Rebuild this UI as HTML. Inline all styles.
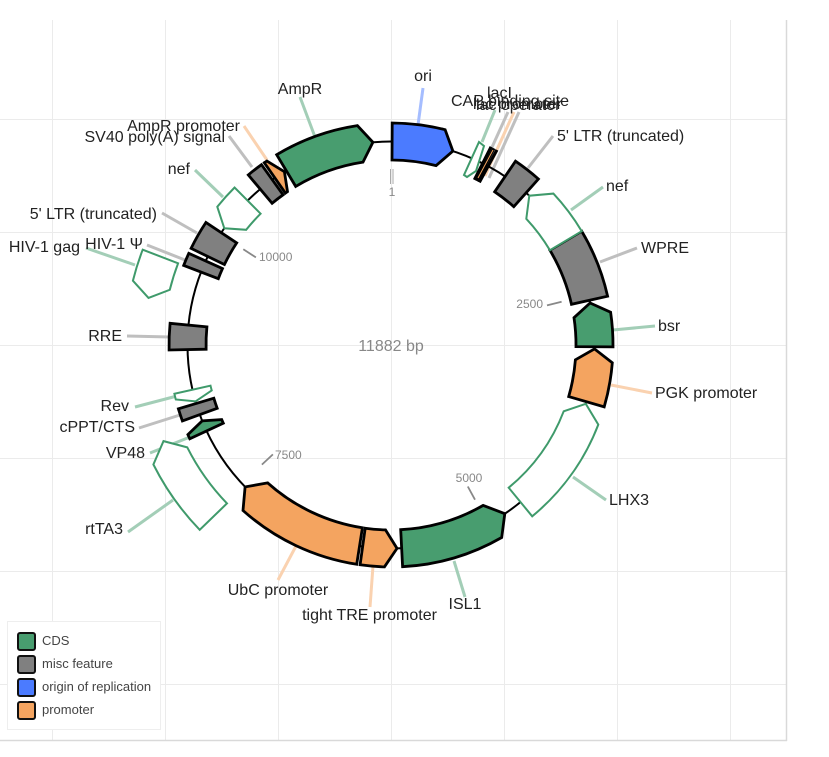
<!DOCTYPE html>
<html>
<head>
<meta charset="utf-8">
<style>
html,body{margin:0;padding:0;background:#fff;}
svg{display:block;}
text{font-family:"Liberation Sans",Arial,sans-serif;}
</style>
</head>
<body>
<svg width="829" height="757" viewBox="0 0 829 757" xmlns="http://www.w3.org/2000/svg">
<rect x="0" y="0" width="829" height="757" fill="#fff"/>
<!-- grid -->
<g stroke="#ebebeb" stroke-width="1">
<line x1="52.5" y1="20" x2="52.5" y2="740"/>
<line x1="165.5" y1="20" x2="165.5" y2="740"/>
<line x1="278.5" y1="20" x2="278.5" y2="740"/>
<line x1="391.5" y1="20" x2="391.5" y2="740"/>
<line x1="504.5" y1="20" x2="504.5" y2="740"/>
<line x1="617.5" y1="20" x2="617.5" y2="740"/>
<line x1="730.5" y1="20" x2="730.5" y2="740"/>
<line x1="0" y1="119.5" x2="786" y2="119.5"/>
<line x1="0" y1="232.5" x2="786" y2="232.5"/>
<line x1="0" y1="345.5" x2="786" y2="345.5"/>
<line x1="0" y1="458.5" x2="786" y2="458.5"/>
<line x1="0" y1="571.5" x2="786" y2="571.5"/>
<line x1="0" y1="684.5" x2="786" y2="684.5"/>
</g>
<g stroke="#d9d9d9" stroke-width="1.5">
<line x1="786.5" y1="20" x2="786.5" y2="741"/>
<line x1="0" y1="740.5" x2="787" y2="740.5"/>
</g>

<!-- leader lines -->
<g stroke-width="3" fill="none">
<line x1="423" y1="88" x2="418" y2="125" stroke="#a5bdff"/>
<line x1="300" y1="97" x2="315" y2="137" stroke="#a3ceb7"/>
<line x1="244" y1="126" x2="267" y2="160" stroke="#fad2b0"/>
<line x1="229" y1="136" x2="252" y2="167" stroke="#bfbfbf"/>
<line x1="195" y1="170" x2="223" y2="197" stroke="#a3ceb7"/>
<line x1="162" y1="213" x2="197" y2="233" stroke="#bfbfbf"/>
<line x1="147" y1="245" x2="185" y2="260" stroke="#bfbfbf"/>
<line x1="86" y1="248" x2="135" y2="265" stroke="#a3ceb7"/>
<line x1="127" y1="336" x2="170" y2="337" stroke="#bfbfbf"/>
<line x1="135" y1="407" x2="177" y2="396" stroke="#a3ceb7"/>
<line x1="139" y1="428" x2="180" y2="415" stroke="#bfbfbf"/>
<line x1="150" y1="453" x2="190" y2="437" stroke="#a3ceb7"/>
<line x1="128" y1="532" x2="173" y2="500" stroke="#a3ceb7"/>
<line x1="278" y1="580" x2="296" y2="546" stroke="#fad2b0"/>
<line x1="370" y1="607" x2="373" y2="566" stroke="#fad2b0"/>
<line x1="465" y1="597" x2="454" y2="561" stroke="#a3ceb7"/>
<line x1="606" y1="500" x2="573" y2="477" stroke="#a3ceb7"/>
<line x1="652" y1="393" x2="611" y2="385" stroke="#fad2b0"/>
<line x1="655" y1="326" x2="613" y2="330" stroke="#a3ceb7"/>
<line x1="637" y1="248" x2="600" y2="262" stroke="#bfbfbf"/>
<line x1="603" y1="187" x2="571" y2="210" stroke="#a3ceb7"/>
<line x1="553" y1="136" x2="528" y2="168" stroke="#bfbfbf"/>
<line x1="495" y1="110" x2="482" y2="142" stroke="#a3ceb7"/>
<line x1="508" y1="112" x2="478" y2="178" stroke="#bfbfbf"/>
<line x1="514" y1="112" x2="485" y2="176" stroke="#fad2b0"/>
<line x1="519" y1="112" x2="489" y2="178" stroke="#bfbfbf"/>
</g>

<!-- backbone -->
<circle cx="391" cy="345" r="203.5" fill="none" stroke="#000" stroke-width="2"/>

<!-- ticks -->
<g stroke="#888" stroke-width="1.8">
<line x1="547" y1="305.4" x2="561.6" y2="301.7"/>
<line x1="467.8" y1="486.5" x2="475" y2="499.7"/>
<line x1="272.9" y1="454.4" x2="261.9" y2="464.6"/>
<line x1="255.9" y1="257.4" x2="243.3" y2="249.3"/>
</g>
<g stroke="#aaa" stroke-width="1">
<line x1="390.5" y1="169" x2="390.5" y2="184"/>
<line x1="393" y1="169" x2="393" y2="184"/>
</g>
<g font-size="12" fill="#888">
<text x="392" y="196" text-anchor="middle">1</text>
<text x="543" y="308" text-anchor="end">2500</text>
<text x="469" y="482" text-anchor="middle">5000</text>
<text x="275" y="459">7500</text>
<text x="259" y="261">10000</text>
</g>

<!-- features -->
<g stroke="#000" stroke-width="2.8" stroke-linejoin="miter">
<path fill="#4b7bff" d="M392.2 123 A222 222 0 0 1 445.1 129.7 L452.9 151.1 L436.1 165.6 A185 185 0 0 0 392 160 Z"/>
<path fill="#489d6f" d="M276.7 154.7 A222 222 0 0 1 357.4 125.6 L372.9 142.3 L363 162.1 A185 185 0 0 0 295.7 186.4 Z"/>
<path fill="#f4a460" d="M264.3 162.7 A222 222 0 0 1 266.9 161 L284.4 171.7 L287.5 191.6 A185 185 0 0 0 285.4 193.1 Z"/>
<path fill="#808080" d="M248.3 174.9 A222 222 0 0 1 261.5 164.7 L283.1 194.8 A185 185 0 0 0 272.1 203.3 Z"/>
<path fill="#808080" d="M191.1 248.4 A222 222 0 0 1 205.9 222.5 L236.7 242.9 A185 185 0 0 0 224.4 264.5 Z"/>
<path fill="#808080" d="M183.7 265.4 A222 222 0 0 1 188.8 253.3 L222.5 268.6 A185 185 0 0 0 218.3 278.7 Z"/>
<path fill="#808080" d="M169.1 350 A222 222 0 0 1 170.1 323.3 L206.9 326.9 A185 185 0 0 0 206.1 349.2 Z"/>
<path fill="#808080" d="M182.4 420.9 A222 222 0 0 1 178.4 408.8 L213.8 398.2 A185 185 0 0 0 217.2 408.3 Z"/>
<path fill="#489d6f" d="M189.8 438.8 A222 222 0 0 1 187.9 434.6 L202.2 420.9 L221.7 419.6 A185 185 0 0 0 223.3 423.2 Z"/>
<path fill="#f4a460" d="M356.7 564.3 A222 222 0 0 1 243 510.5 L245.1 486.9 L267.7 482.9 A185 185 0 0 0 362.4 527.8 Z"/>
<path fill="#f4a460" d="M384.4 566.9 A222 222 0 0 1 360.1 564.8 L365.2 528.2 A185 185 0 0 0 385.5 529.9 L397 548.4 Z"/>
<path fill="#489d6f" d="M501.7 537.5 A222 222 0 0 1 402.6 566.7 L400.7 529.7 A185 185 0 0 0 483.2 505.4 L504.8 513.7 Z"/>
<path fill="#f4a460" d="M612.3 362.8 A222 222 0 0 1 604.2 406.9 L568.7 396.6 A185 185 0 0 0 575.4 359.8 L594.5 348.9 Z"/>
<path fill="#489d6f" d="M610.6 312.2 A222 222 0 0 1 613 346.9 L576 346.6 A185 185 0 0 0 574 317.7 L590.1 303 Z"/>
<path fill="#808080" d="M581.7 231.2 A222 222 0 0 1 607.6 296.2 L571.5 304.3 A185 185 0 0 0 549.9 250.2 Z"/>
<path fill="#808080" d="M515.5 161.2 A222 222 0 0 1 538.4 179 L513.8 206.7 A185 185 0 0 0 494.7 191.8 Z"/>
</g>

<!-- hollow CDS -->
<g stroke="#3f9a6b" stroke-width="2" fill="#fff" stroke-linejoin="miter">
<path d="M217.3 206.8 A222 222 0 0 1 234.6 187.5 L260.6 213.7 A185 185 0 0 0 246.2 229.8 L224.3 228.3 Z"/>
<path d="M132.9 280.7 A266 266 0 0 1 142.7 249.7 L178.1 263.3 A228 228 0 0 0 169.8 289.8 L148.5 297.9 Z"/>
<path d="M175.8 399.5 A222 222 0 0 1 174.4 393.8 L210.5 385.7 A185 185 0 0 0 211.7 390.4 L195.5 401.4 Z"/>
<path d="M199.7 529.8 A266 266 0 0 1 153.4 464.5 L163.5 441.1 L187.3 447.4 A228 228 0 0 0 227 503.4 Z"/>
<path d="M598.3 424.6 A222 222 0 0 1 532.2 516.3 L508.7 487.7 A185 185 0 0 0 563.7 411.3 L585.8 403.8 Z"/>
<path d="M553.4 193.6 A222 222 0 0 1 581.7 231.2 L549.9 250.2 A185 185 0 0 0 526.3 218.8 L529.3 195.7 Z"/>
<path d="M479 142 L484 146 L476 171 L467 177 L464 175 Z"/>
</g>

<!-- lac cluster -->
<g stroke-width="3.2" stroke-linecap="butt">
<line x1="474.4" y1="179.9" x2="491.1" y2="146.8" stroke="#000"/>
<line x1="476.9" y1="181.1" x2="493.9" y2="148.3" stroke="#000"/>
<line x1="479.3" y1="182.4" x2="496.9" y2="149.9" stroke="#000"/>
<line x1="478" y1="178" x2="493" y2="150" stroke="#f4a460" stroke-width="1"/>
</g>

<!-- center label -->
<text x="391" y="351" text-anchor="middle" font-size="16" fill="#888">11882 bp</text>

<!-- labels -->
<g font-size="16" fill="#222">
<text x="423" y="81" text-anchor="middle">ori</text>
<text x="300" y="94" text-anchor="middle">AmpR</text>
<text x="240" y="131" text-anchor="end">AmpR promoter</text>
<text x="225" y="142" text-anchor="end">SV40 poly(A) signal</text>
<text x="190" y="174" text-anchor="end">nef</text>
<text x="157" y="219" text-anchor="end">5' LTR (truncated)</text>
<text x="143" y="249" text-anchor="end">HIV-1 Ψ</text>
<text x="80" y="252" text-anchor="end">HIV-1 gag</text>
<text x="122" y="341" text-anchor="end">RRE</text>
<text x="129" y="411" text-anchor="end">Rev</text>
<text x="135" y="432" text-anchor="end">cPPT/CTS</text>
<text x="145" y="458" text-anchor="end">VP48</text>
<text x="123" y="534" text-anchor="end">rtTA3</text>
<text x="278" y="595" text-anchor="middle">UbC promoter</text>
<text x="369.5" y="620" text-anchor="middle">tight TRE promoter</text>
<text x="465" y="609" text-anchor="middle">ISL1</text>
<text x="609" y="505">LHX3</text>
<text x="655" y="398">PGK promoter</text>
<text x="658" y="331">bsr</text>
<text x="641" y="253">WPRE</text>
<text x="606" y="191">nef</text>
<text x="557" y="141">5' LTR (truncated)</text>
<text x="451" y="106">CAP binding site</text>
<text x="487" y="98">lacI</text>
<text x="473" y="109">lac promoter</text>
<text x="476" y="110">lac operator</text>
</g>

<!-- legend -->
<rect x="7.5" y="621.5" width="153" height="108" fill="#fff" stroke="#eeeeee" stroke-width="1"/>
<g stroke="#111" stroke-width="2">
<rect x="18" y="633" width="17" height="17" rx="2" fill="#489d6f"/>
<rect x="18" y="656" width="17" height="17" rx="2" fill="#808080"/>
<rect x="18" y="679" width="17" height="17" rx="2" fill="#4b7bff"/>
<rect x="18" y="702" width="17" height="17" rx="2" fill="#f4a460"/>
</g>
<g font-size="13" fill="#444">
<text x="42" y="645">CDS</text>
<text x="42" y="668">misc feature</text>
<text x="42" y="691">origin of replication</text>
<text x="42" y="714">promoter</text>
</g>
</svg>
</body>
</html>
